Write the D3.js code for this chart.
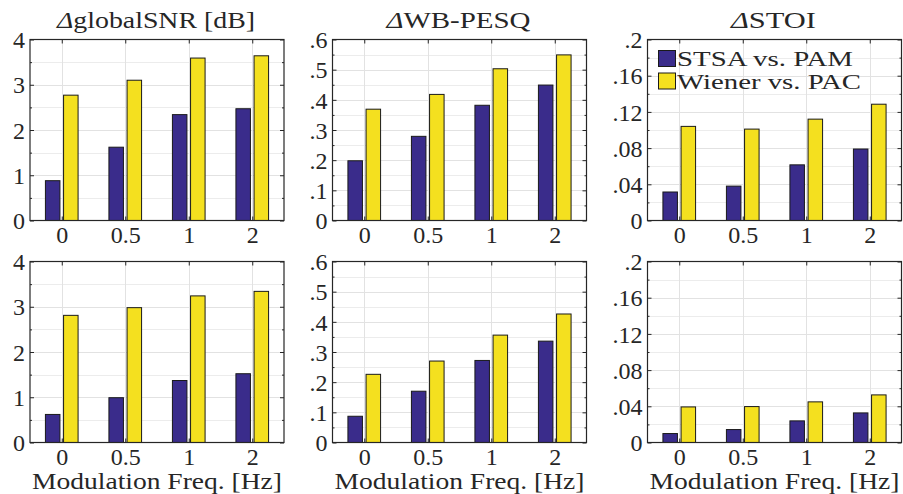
<!DOCTYPE html>
<html>
<head>
<meta charset="utf-8">
<script src="https://cdn.jsdelivr.net/npm/d3@7"></script>
<style>
  html, body { margin: 0; padding: 0; background: #fff; }
  svg { display: block; }
</style>
</head>
<body>
<svg id="chart" width="903" height="494"></svg>
<script>
// ---------------- data ----------------
const categories = ["0", "0.5", "1", "2"];
const seriesNames = ["STSA vs. PAM", "Wiener vs. PAC"];

const snrTopSTSA    = [0.88, 1.62, 2.34, 2.47];
const snrTopWiener  = [2.77, 3.10, 3.59, 3.64];
const pesqTopSTSA   = [0.198, 0.279, 0.382, 0.449];
const pesqTopWiener = [0.369, 0.418, 0.503, 0.549];
const stoiTopSTSA   = [0.0315, 0.038, 0.0615, 0.079];
const stoiTopWiener = [0.104, 0.101, 0.112, 0.1285];

const snrBotSTSA    = [0.62, 0.99, 1.37, 1.52];
const snrBotWiener  = [2.81, 2.98, 3.24, 3.34];
const pesqBotSTSA   = [0.087, 0.170, 0.272, 0.336];
const pesqBotWiener = [0.226, 0.270, 0.356, 0.426];
const stoiBotSTSA   = [0.0099, 0.0143, 0.0239, 0.0327];
const stoiBotWiener = [0.0393, 0.0397, 0.0449, 0.0526];

const snrTicks   = [0, 1, 2, 3, 4];
const snrLabels  = ["0", "1", "2", "3", "4"];
const snrMinor   = [0.5, 1.5, 2.5, 3.5];
const pesqTicks  = [0, 0.1, 0.2, 0.3, 0.4, 0.5, 0.6];
const pesqLabels = ["0", ".1", ".2", ".3", ".4", ".5", ".6"];
const pesqMinor  = [0.05, 0.15, 0.25, 0.35, 0.45, 0.55];
const stoiTicks  = [0, 0.04, 0.08, 0.12, 0.16, 0.2];
const stoiLabels = ["0", ".04", ".08", ".12", ".16", ".2"];
const stoiMinor  = [0.02, 0.06, 0.10, 0.14, 0.18];

const titles = ["globalSNR [dB]", "WB-PESQ", "STOI"];
const xLabelText = "Modulation Freq. [Hz]";

// ---------------- layout / style ----------------
const FONT = '"Liberation Serif", "Times New Roman", serif';
const FS = 24;
const TXT = "#262626";
const colors = ["#3a2c8b", "#f4e01f"];
const cols = [[30, 284], [332.5, 586.5], [647.5, 901.5]];
const rows = [[39.5, 220.5], [261.5, 442.5]];
const titleWidths = [198, 144, 85];

const panels = [
  {r:0, c:0, s:[snrTopSTSA, snrTopWiener], t:snrTicks, l:snrLabels, m:snrMinor, max:4},
  {r:0, c:1, s:[pesqTopSTSA, pesqTopWiener], t:pesqTicks, l:pesqLabels, m:pesqMinor, max:0.6},
  {r:0, c:2, s:[stoiTopSTSA, stoiTopWiener], t:stoiTicks, l:stoiLabels, m:stoiMinor, max:0.2},
  {r:1, c:0, s:[snrBotSTSA, snrBotWiener], t:snrTicks, l:snrLabels, m:snrMinor, max:4},
  {r:1, c:1, s:[pesqBotSTSA, pesqBotWiener], t:pesqTicks, l:pesqLabels, m:pesqMinor, max:0.6},
  {r:1, c:2, s:[stoiBotSTSA, stoiBotWiener], t:stoiTicks, l:stoiLabels, m:stoiMinor, max:0.2},
];

const svg = d3.select("#chart");

function styleText(sel, size) {
  return sel.style("font-family", FONT).style("font-size", size + "px").style("fill", TXT);
}

panels.forEach(p => {
  const [x0, x1] = cols[p.c];
  const [y0, y1] = rows[p.r];
  const x = d3.scaleLinear().domain([0.5, categories.length + 0.5]).range([x0, x1]);
  const y = d3.scaleLinear().domain([0, p.max]).range([y1, y0]);
  const g = svg.append("g");

  // grid
  const grid = g.append("g").attr("shape-rendering", "crispEdges");
  grid.selectAll("line.minor").data(p.m).join("line")
    .attr("x1", x0).attr("x2", x1)
    .attr("y1", d => Math.round(y(d)) + 0.5).attr("y2", d => Math.round(y(d)) + 0.5)
    .attr("stroke", "#ececec").attr("stroke-width", 1);
  grid.selectAll("line.major").data(p.t.slice(1, -1)).join("line")
    .attr("x1", x0).attr("x2", x1)
    .attr("y1", d => Math.round(y(d)) + 0.5).attr("y2", d => Math.round(y(d)) + 0.5)
    .attr("stroke", "#e2e2e2").attr("stroke-width", 1);
  grid.selectAll("line.vx").data(categories.map((c, i) => i + 1)).join("line")
    .attr("x1", d => Math.round(x(d)) + 0.5).attr("x2", d => Math.round(x(d)) + 0.5)
    .attr("y1", y0).attr("y2", y1)
    .attr("stroke", "#e2e2e2").attr("stroke-width", 1);

  // bars (MATLAB grouped-bar geometry)
  const groupW = Math.min(0.8, 2 / (2 + 1.5));
  const barW = groupW / 2 * 0.8;
  p.s.forEach((vals, si) => {
    const off = (si - 0.5) * groupW / 2;
    g.append("g").selectAll("rect").data(vals).join("rect")
      .attr("x", (d, i) => x(i + 1 + off - barW / 2))
      .attr("width", x(barW) - x(0))
      .attr("y", d => y(d))
      .attr("height", d => y(0) - y(d))
      .attr("fill", colors[si])
      .attr("stroke", "#1a1a1a")
      .attr("stroke-width", 1);
  });

  // axes
  const fmt = v => p.l[p.t.indexOf(v)];
  const left = g.append("g").attr("transform", `translate(${x0},0)`)
    .call(d3.axisLeft(y).tickValues(p.t).tickFormat(fmt).tickSize(-4).tickPadding(5));
  g.append("g").attr("transform", `translate(${x0},0)`)
    .call(d3.axisLeft(y).tickValues(p.m).tickFormat("").tickSize(-2));
  g.append("g").attr("transform", `translate(${x1},0)`)
    .call(d3.axisRight(y).tickValues(p.t).tickFormat("").tickSize(-4));
  g.append("g").attr("transform", `translate(${x1},0)`)
    .call(d3.axisRight(y).tickValues(p.m).tickFormat("").tickSize(-2));
  const bottom = g.append("g").attr("transform", `translate(0,${y1})`)
    .call(d3.axisBottom(x).tickValues([1, 2, 3, 4]).tickFormat(d => categories[d - 1]).tickSize(-4).tickPadding(5));
  g.append("g").attr("transform", `translate(0,${y0})`)
    .call(d3.axisTop(x).tickValues([1, 2, 3, 4]).tickFormat("").tickSize(-4));

  g.selectAll(".domain").remove();
  g.selectAll(".tick line").attr("stroke", TXT);
  styleText(g.selectAll(".tick text"), FS);
  left.selectAll(".tick text").attr("dy", "0.34em");
  bottom.selectAll(".tick text").attr("dy", "0.72em");

  // box
  g.append("rect").attr("x", x0).attr("y", y0).attr("width", x1 - x0).attr("height", y1 - y0)
    .attr("fill", "none").attr("stroke", TXT).attr("stroke-width", 1.2);

  // title
  if (p.r === 0) {
    const t = styleText(g.append("text"), FS).attr("x", (x0 + x1) / 2 - 1).attr("y", 28)
      .attr("text-anchor", "middle")
      .attr("textLength", titleWidths[p.c]).attr("lengthAdjust", "spacingAndGlyphs");
    t.append("tspan").style("font-style", "italic").text("\u0394");
    t.append("tspan").text(titles[p.c]);
  }
  // x label
  if (p.r === 1) {
    styleText(g.append("text"), FS).attr("x", (x0 + x1) / 2).attr("y", 489)
      .attr("text-anchor", "middle")
      .attr("textLength", 250).attr("lengthAdjust", "spacingAndGlyphs")
      .text(xLabelText);
  }
  // legend
  if (p.r === 0 && p.c === 2) {
    const legW = [176, 184];
    const lg = g.append("g");
    seriesNames.forEach((name, i) => {
      const yy = 50.5 + i * 22.5;
      lg.append("rect").attr("x", 658.5).attr("y", yy).attr("width", 17).attr("height", 16)
        .attr("fill", colors[i]).attr("stroke", "#1a1a1a").attr("stroke-width", 1);
      styleText(lg.append("text"), 21).attr("x", 677).attr("y", yy + 15.5)
        .attr("textLength", legW[i]).attr("lengthAdjust", "spacingAndGlyphs")
        .text(name);
    });
  }
});
</script>
</body>
</html>
